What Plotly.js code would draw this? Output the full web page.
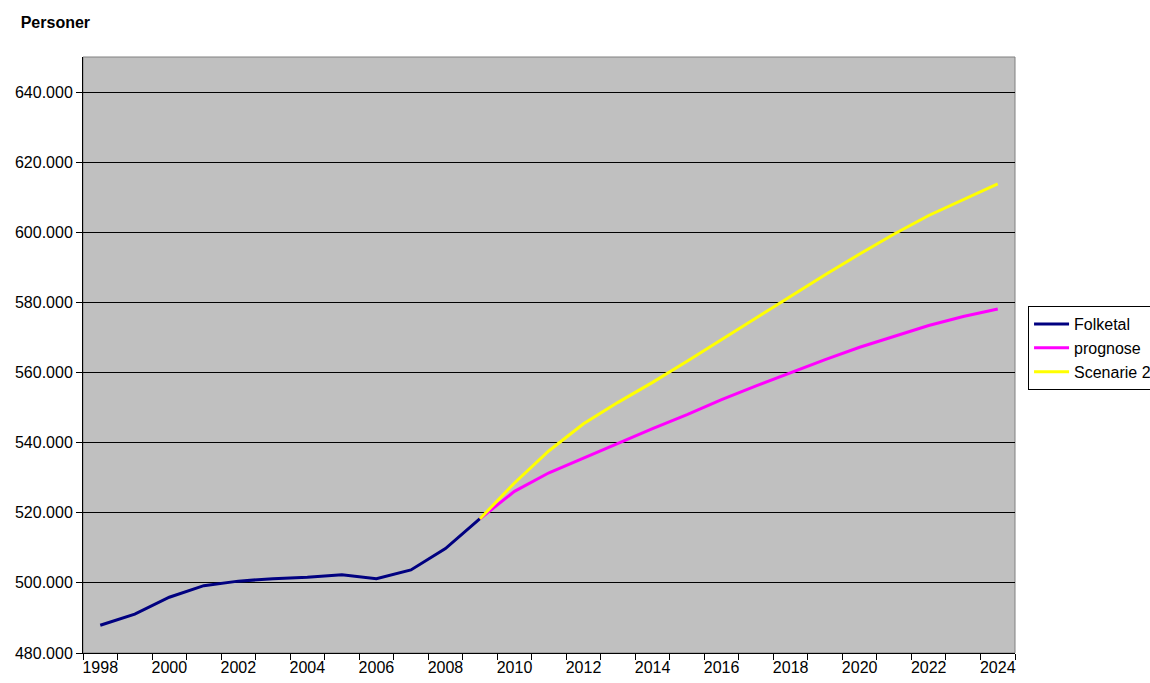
<!DOCTYPE html>
<html>
<head>
<meta charset="utf-8">
<script src="https://cdn.plot.ly/plotly-3.0.1.min.js"></script>
<style>
html,body{margin:0;padding:0;background:#fff;}
#chart{width:1150px;height:683px;}
</style>
</head>
<body>
<div id="chart"></div>
<script>
const years = [1998,1999,2000,2001,2002,2003,2004,2005,2006,2007,2008,2009,2010,2011,2012,2013,2014,2015,2016,2017,2018,2019,2020,2021,2022,2023,2024];
const folketal = [487900,491100,495900,499200,500500,501200,501600,502300,501200,503700,509800,518300,null,null,null,null,null,null,null,null,null,null,null,null,null,null,null];
const prognose = [null,null,null,null,null,null,null,null,null,null,null,518300,526100,531400,535600,539900,544000,548000,552300,556200,560000,563700,567200,570300,573400,576000,578100];
const scenarie2 = [null,null,null,null,null,null,null,null,null,null,null,518300,528500,537700,545400,551500,557200,563200,569400,575600,581700,587900,593800,599500,604800,609300,613800];
const labelYears = years.filter(y => y % 2 === 0);
const seriesNames = ['Folketal','prognose','Scenarie 2'];
const seriesColors = ['#000080','#FF00FF','#FFFF00'];

const font = 'Liberation Sans, Arial, sans-serif';
const traces = [folketal, prognose, scenarie2].map((vals, i) => ({
  type: 'scatter', mode: 'lines', x: years, y: vals, name: seriesNames[i],
  line: {color: seriesColors[i], width: 3}, connectgaps: false, hoverinfo: 'x+y'
}));

const layout = {
  width: 1150, height: 683,
  margin: {l: 83, r: 135, t: 57, b: 30, autoexpand: false},
  paper_bgcolor: '#FFFFFF', plot_bgcolor: '#C0C0C0',
  separators: ',.',
  font: {family: font, size: 16, color: '#000'},
  title: {text: '<b>Personer</b>', x: 0.018, xanchor: 'left', xref: 'container',
          y: 1 - 22/683, yanchor: 'middle', yref: 'container',
          font: {family: font, size: 16, color: '#000'}},
  showlegend: true,
  legend: {x: 1.014, xanchor: 'left', y: 0.582, yanchor: 'top',
           bgcolor: '#FFFFFF', bordercolor: '#000', borderwidth: 1,
           font: {family: font, size: 16, color: '#000'}, itemwidth: 35,
           tracegroupgap: 0},
  xaxis: {type: 'linear', range: [1997.5, 2024.5], tickmode: 'array',
          tickvals: labelYears, ticktext: labelYears.map(String),
          ticks: '', showgrid: false, zeroline: false,
          showline: true, linecolor: '#000', linewidth: 1,
          tickfont: {family: font, size: 16, color: '#000'},
          minor: {tick0: 1997.5, dtick: 1, ticks: 'outside', ticklen: 6, tickcolor: '#000', tickwidth: 1, showgrid: false},
          fixedrange: true},
  yaxis: {range: [480000, 650000], dtick: 20000, tick0: 480000, tickformat: ',d',
          ticks: 'outside', ticklen: 6, tickcolor: '#000',
          showgrid: true, gridcolor: '#000', gridwidth: 1, zeroline: false,
          showline: true, linecolor: '#000', linewidth: 1,
          tickfont: {family: font, size: 16, color: '#000'}, fixedrange: true},
  shapes: [{type: 'rect', xref: 'paper', yref: 'paper', x0: 0, x1: 1, y0: 0, y1: 1,
            line: {color: '#808080', width: 1}, layer: 'below'}]
};

Plotly.newPlot('chart', traces, layout, {displayModeBar: false, staticPlot: true});
</script>
</body>
</html>
